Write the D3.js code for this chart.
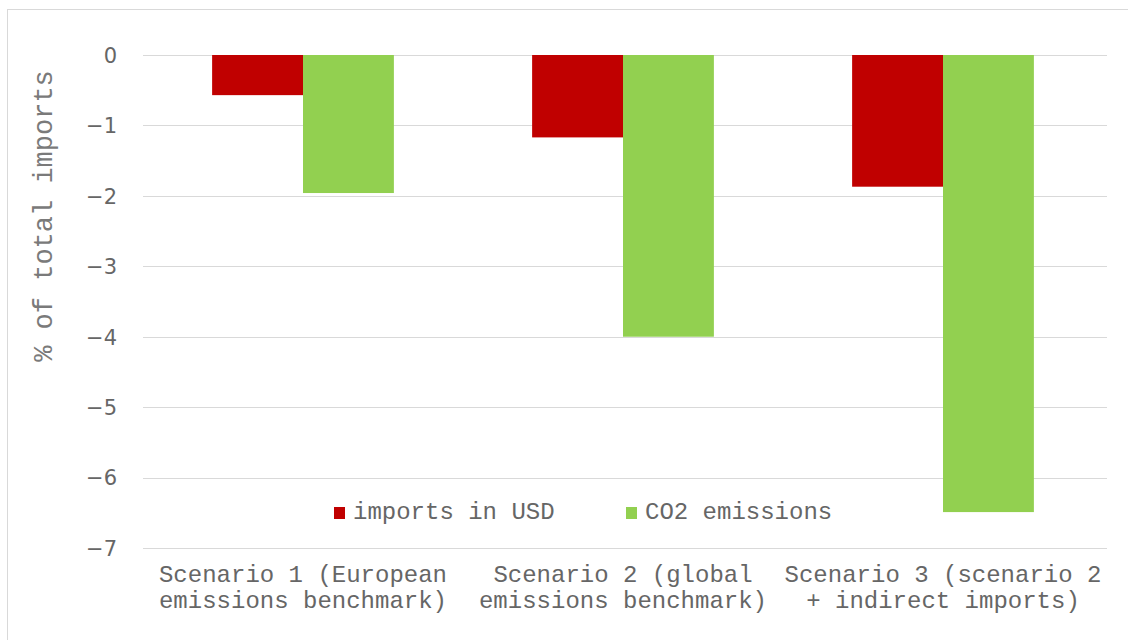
<!DOCTYPE html>
<html>
<head>
<meta charset="utf-8">
<script src="https://cdn.jsdelivr.net/npm/d3@7"></script>
<style>
  html, body { margin: 0; padding: 0; background: #fff; }
  svg { display: block; }
</style>
</head>
<body>
<svg id="chart" width="1128" height="640"></svg>
<script>
const categories = [
  ["Scenario 1 (European", "emissions benchmark)"],
  ["Scenario 2 (global", "emissions benchmark)"],
  ["Scenario 3 (scenario 2", "+ indirect imports)"]
];
const seriesNames = ["imports in USD", "CO2 emissions"];
const importsUSD = [-0.57, -1.17, -1.87];
const co2Emissions = [-1.96, -4.0, -6.49];
const yTicks = [0, -1, -2, -3, -4, -5, -6, -7];
const yTitle = "% of total imports";
const colors = ["#C00000", "#92D050"];

(function () {
const svg = d3.select("#chart");
const monoFont = "'Liberation Mono', 'DejaVu Sans Mono', monospace";
const sansFont = "'DejaVu Sans', 'Liberation Sans', sans-serif";
const textColor = "#666666";

// outer frame
svg.append("rect")
  .attr("x", 7.5).attr("y", 9.5)
  .attr("width", 1140).attr("height", 660)
  .attr("fill", "#fff").attr("stroke", "#d9d9d9").attr("stroke-width", 1);

const pLeft = 143, pRight = 1107, pTop = 55, pBottom = 548;

const y = d3.scaleLinear().domain([0, -7]).range([pTop, pBottom]);
const catIdx = categories.map((d, i) => i);
const x0 = d3.scaleBand().domain(catIdx).range([pLeft, 1103]).paddingInner(0.432).paddingOuter(0.216);
const x1 = d3.scaleBand().domain([0, 1]).range([0, x0.bandwidth()]);

// gridlines
svg.append("g").selectAll("line").data(yTicks).join("line")
  .attr("x1", pLeft).attr("x2", pRight)
  .attr("y1", d => Math.round(y(d)) + 0.5).attr("y2", d => Math.round(y(d)) + 0.5)
  .attr("stroke", "#d9d9d9").attr("stroke-width", 1.2);

// y axis labels
const yAxis = d3.axisLeft(y).tickValues(yTicks).tickSize(0).tickPadding(0)
  .tickFormat(d => d === 0 ? "0" : "\u2212" + Math.abs(d));
const gy = svg.append("g").attr("transform", `translate(117,0)`).call(yAxis);
gy.select(".domain").remove();
gy.selectAll("text")
  .attr("font-family", sansFont).attr("font-size", 21)
  .attr("fill", textColor).attr("dy", "0.35em");

// bars
const series = [importsUSD, co2Emissions];
const groups = svg.append("g").selectAll("g").data(catIdx).join("g")
  .attr("transform", i => `translate(${x0(i)},0)`);
groups.selectAll("rect")
  .data(i => series.map((s, k) => ({ k, v: s[i] })))
  .join("rect")
  .attr("x", d => x1(d.k))
  .attr("width", x1.bandwidth())
  .attr("y", y(0))
  .attr("height", d => y(d.v) - y(0))
  .attr("fill", d => colors[d.k]);

// category labels
const catG = svg.append("g");
categories.forEach((lines, i) => {
  const cx = x0(i) + x0.bandwidth() / 2;
  const t = catG.append("text")
    .attr("text-anchor", "middle")
    .attr("font-family", monoFont).attr("font-size", 24)
    .attr("fill", textColor);
  lines.forEach((ln, j) => {
    t.append("tspan").attr("x", cx).attr("y", 582 + j * 26).text(ln);
  });
});

// y title
svg.append("text")
  .attr("transform", "translate(52,216) rotate(-90)")
  .attr("text-anchor", "middle")
  .attr("font-family", monoFont).attr("font-size", 27)
  .attr("fill", "#7a7a7a")
  .text(yTitle);

// legend
const legendPos = [334, 626];
const lg = svg.append("g");
seriesNames.forEach((name, k) => {
  lg.append("rect").attr("x", legendPos[k]).attr("y", 507)
    .attr("width", 11).attr("height", 12).attr("fill", colors[k]);
  lg.append("text").attr("x", legendPos[k] + 19).attr("y", 519)
    .attr("font-family", monoFont).attr("font-size", 24)
    .attr("fill", textColor).text(name);
});
})();
</script>
</body>
</html>
